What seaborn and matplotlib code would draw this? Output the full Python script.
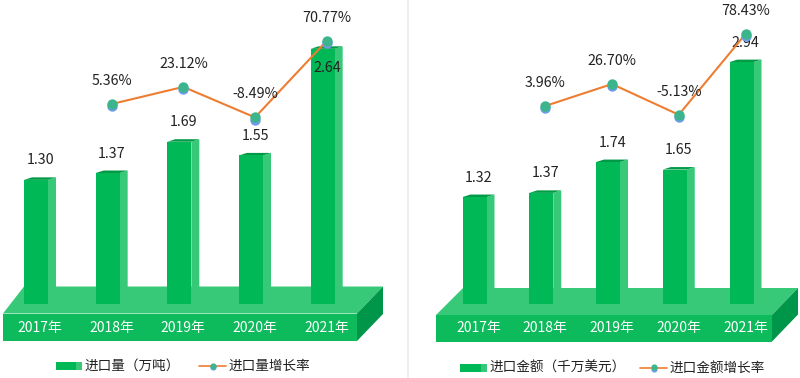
import matplotlib
matplotlib.use("Agg")
import matplotlib.pyplot as plt
import seaborn as sns
import pandas as pd
from matplotlib.patches import Polygon, Rectangle
from matplotlib.transforms import ScaledTranslation

sns.set_style("white")
plt.rcParams['font.family'] = ['Noto Sans CJK SC', 'DejaVu Sans']

# chart data
years = ["2017年", "2018年", "2019年", "2020年", "2021年"]
volume = [1.30, 1.37, 1.69, 1.55, 2.64]
volume_growth = [None, 5.36, 23.12, -8.49, 70.77]
amount = [1.32, 1.37, 1.74, 1.65, 2.94]
amount_growth = [None, 3.96, 26.70, -5.13, 78.43]

FRONT = "#00B956"
SIDE = "#37C978"
TOP = "#009A46"
DARK = "#00964A"
ORANGE = "#ED7D31"
TEXT = "#222222"
W, H = 800, 378

fig = plt.figure(figsize=(W / 100, H / 100), dpi=100)

# pixel canvas for the platform, divider and legend
bg = fig.add_axes([0, 0, 1, 1], zorder=0)
bg.set_xlim(0, W)
bg.set_ylim(H, 0)
bg.axis("off")
bg.plot([408, 408], [0, H], color="#EBEBEB", lw=1.2)


def marker_pair(ax, x, y, size):
    # blue dot sitting a little lower than the teal one
    off = ScaledTranslation(0, -2.2 / 100, fig.dpi_scale_trans)
    ax.scatter(x, y, s=size, color="#6C9BE8", linewidths=0, zorder=3,
               transform=ax.transData + off)
    ax.scatter(x, y, s=size, color="#3DB58C", linewidths=0, zorder=4)


def panel(values, growth, first, step, base, scale, zero_px, plat, legend, names):
    # platform under the bars
    fl, fr, ft, fb, bl, br, bt = plat
    bg.add_patch(Polygon([(fl, ft), (bl, bt), (br, bt), (fr, ft)], color=SIDE, lw=0))
    bg.add_patch(Rectangle((fl, ft), fr - fl, fb - ft, color="#0DBA5C", lw=0))
    bg.add_patch(Polygon([(fr, ft), (br, bt), (br, bt + fb - ft), (fr, fb)], color=DARK, lw=0))

    # bars
    left_px, right_px = first - step * 0.5 - 4, first + step * 4.5
    left_px = max(left_px, 0)
    ax = fig.add_axes([left_px / W, 1 - 304 / H, (right_px - left_px) / W, 304 / H],
                      facecolor="none", zorder=1)
    data = pd.DataFrame({"year": years, "value": values})
    sns.barplot(data=data, x="year", y="value", color=FRONT, saturation=1,
                width=24 / step, ax=ax, zorder=3, linewidth=0, edgecolor="none")
    ax.set_xlim((left_px - first) / step, (right_px - first) / step)
    ax.set_ylim((base - 304) / scale, base / scale)
    ax.set_xlabel("")
    ax.set_ylabel("")
    ax.set_yticks([])
    sns.despine(ax=ax, left=True, bottom=True)
    ax.tick_params(axis="x", length=0, pad=12.5, labelsize=10, labelcolor="white")
    shift = ScaledTranslation(4 / 100, 0, fig.dpi_scale_trans)
    for lab in ax.get_xticklabels():
        lab.set_transform(lab.get_transform() + shift)

    dx, dy = 8 / step, 2.5 / scale
    floor = (base - 290) / scale
    for i, bar in enumerate(ax.patches):
        x0, x1 = bar.get_x(), bar.get_x() + bar.get_width()
        v = values[i]
        ax.add_patch(Polygon([(x1, v), (x1 + dx, v + dy), (x1 + dx, floor), (x1, floor)],
                             color=SIDE, lw=0, zorder=2))
        ax.add_patch(Polygon([(x0, v), (x0 + dx, v + dy), (x1 + dx, v + dy), (x1, v)],
                             color=TOP, lw=0, zorder=2))
        lift = -14 if i == 4 and v < 2.7 else 14
        ax.annotate(f"{v:.2f}", (i, v), xytext=(3, lift), textcoords="offset points",
                    ha="center", va="center", fontsize=10.3, color=TEXT, zorder=6,
                    annotation_clip=False)

    # growth line on its own axis, shifted onto the middle of the 3d bar
    lx = fig.add_axes([left_px / W, 0, (right_px - left_px) / W, 1], facecolor="none", zorder=2)
    lx.axis("off")
    xs = [i for i, g in enumerate(growth) if g is not None]
    ys = [growth[i] for i in xs]
    sns.lineplot(x=xs, y=ys, color=ORANGE, lw=1.5, ax=lx, zorder=2, errorbar=None)
    marker_pair(lx, xs, ys, 56)
    lx.set_xlim((left_px - first - 4) / step, (right_px - first - 4) / step)
    lx.set_ylim((zero_px - H) / 0.965, zero_px / 0.965)
    lx.axis("off")
    for x, y in zip(xs, ys):
        lx.annotate(f"{y:.2f}%", (x, y), xytext=(0, 16.5), textcoords="offset points",
                    ha="center", va="center", fontsize=10.3, color=TEXT, zorder=6,
                    annotation_clip=False)

    # legend
    sx0, sx1, sy, tx1, lx0, lx1, tx2 = legend
    bg.add_patch(Rectangle((sx0, sy - 4), sx1 - sx0 - 6, 8, color=FRONT, lw=0))
    bg.add_patch(Rectangle((sx1 - 6, sy - 4), 6, 8, color=SIDE, lw=0))
    bg.text(tx1, sy, names[0], fontsize=9.8, color=TEXT, va="center", ha="left")
    bg.plot([lx0, lx1], [sy, sy], color=ORANGE, lw=1.2)
    mid = (lx0 + lx1) / 2
    bg.scatter([mid], [sy + 1], s=20, color="#6C9BE8", linewidths=0, zorder=3)
    bg.scatter([mid], [sy - 0.5], s=20, color="#3DB58C", linewidths=0, zorder=4)
    bg.text(tx2, sy, names[1], fontsize=9.8, color=TEXT, va="center", ha="left")


panel(volume, volume_growth, 36, 71.67, 307, 97.8, 109.2,
      (3, 357, 313.5, 341, 24, 383, 286.5),
      (56, 82, 366, 85, 199, 226, 229),
      ("进口量（万吨）", "进口量增长率"))
panel(amount, amount_growth, 474.5, 66.75, 307, 83.3, 109.8,
      (436, 772, 315, 341.5, 463, 798, 288),
      (460, 487, 367.5, 490, 640, 667, 670),
      ("进口金额（千万美元）", "进口金额增长率"))

fig.savefig("out.png", dpi=100)
